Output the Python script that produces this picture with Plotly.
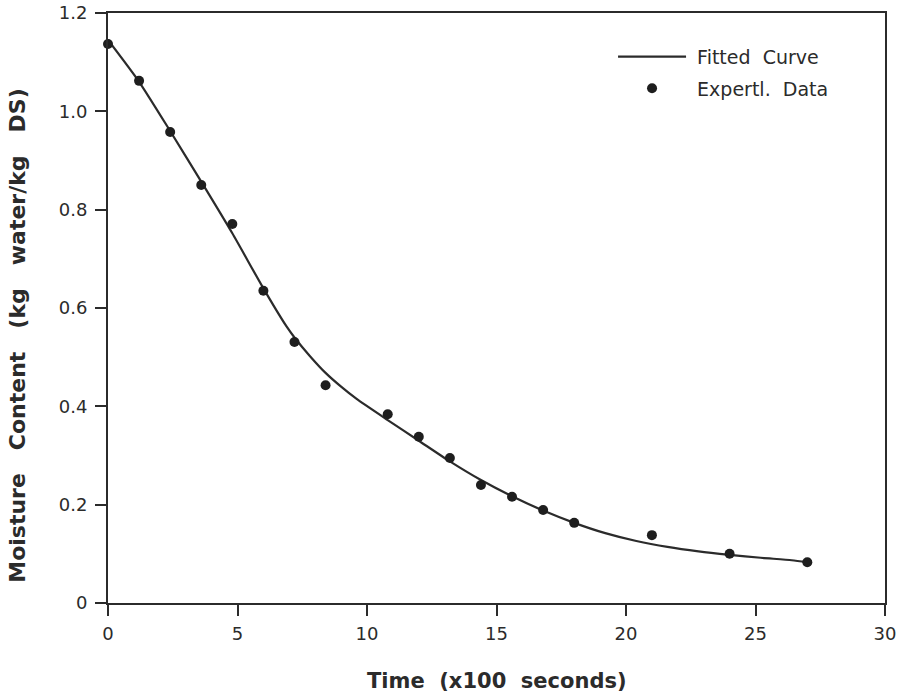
import plotly.graph_objects as go

# Experimental drying data: time (x100 s) and moisture content (kg water / kg DS)
exp_time = [0, 1.2, 2.4, 3.6, 4.8, 6.0, 7.2, 8.4, 10.8, 12.0, 13.2, 14.4,
            15.6, 16.8, 18.0, 21.0, 24.0, 27.0]
exp_moisture = [1.137, 1.062, 0.958, 0.850, 0.771, 0.635, 0.531, 0.443, 0.384,
                0.338, 0.295, 0.240, 0.216, 0.189, 0.163, 0.138, 0.100, 0.083]

# Fitted drying curve
fit_time = [0, 1.2, 2.4, 3.6, 4.8, 6.0, 6.9, 7.2, 7.8, 8.4, 9.0, 9.6, 10.8,
            12.0, 13.2, 14.4, 15.6, 16.8, 18.0, 19.2, 20.4, 21.6, 22.8, 24.0,
            25.2, 26.4, 27.0]
fit_moisture = [1.145, 1.060, 0.960, 0.857, 0.752, 0.640, 0.562, 0.540, 0.502,
                0.468, 0.440, 0.415, 0.372, 0.330, 0.288, 0.250, 0.217, 0.188,
                0.163, 0.142, 0.126, 0.114, 0.105, 0.098, 0.092, 0.087, 0.083]

x_ticks = [0, 5, 10, 15, 20, 25, 30]
y_ticks = [0, 0.2, 0.4, 0.6, 0.8, 1.0, 1.2]
y_tick_text = ["0", "0.2", "0.4", "0.6", "0.8", "1.0", "1.2"]

ink = "#2b2b2b"
font_family = "DejaVu Sans"

fig = go.Figure()
fig.add_trace(go.Scatter(
    x=fit_time, y=fit_moisture, mode="lines", name=" Fitted  Curve",
    legendgroup="fit",
    line=dict(color=ink, width=2.2, shape="spline", smoothing=0.6),
))
fig.add_trace(go.Scatter(
    x=exp_time, y=exp_moisture, mode="markers", name=" Expertl.  Data",
    legendgroup="exp",
    marker=dict(color="#1e1e1e", size=10),
    cliponaxis=False,
))

axis_common = dict(
    showline=True, linecolor=ink, linewidth=2, mirror=True,
    ticks="outside", ticklen=11, tickwidth=2, tickcolor=ink,
    showgrid=False, zeroline=False, automargin=False,
    tickfont=dict(family=font_family, size=18, color=ink),
)

fig.update_xaxes(range=[0, 30], tickvals=x_ticks, ticklabelstandoff=2, **axis_common)
fig.update_yaxes(range=[0, 1.2], tickvals=y_ticks, ticktext=y_tick_text,
                 ticklabelstandoff=4, **axis_common)

fig.update_layout(
    width=904, height=698,
    margin=dict(l=108, r=19, t=13, b=95),
    plot_bgcolor="white", paper_bgcolor="white",
    showlegend=True,
    legend=dict(
        x=0.65, y=0.958, xanchor="left", yanchor="top",
        bgcolor="rgba(0,0,0,0)", borderwidth=0,
        font=dict(family=font_family, size=19, color=ink),
        itemwidth=68, tracegroupgap=4,
    ),
    annotations=[
        dict(text="<b>Time  (x100  seconds)</b>", xref="paper", yref="paper",
             x=0.5, y=-0.132, xanchor="center", yanchor="middle", showarrow=False,
             font=dict(family=font_family, size=21, color=ink)),
        dict(text="<b>Moisture   Content   (kg   water/kg   DS)</b>", xref="paper",
             yref="paper", x=-0.1158, y=0.453, xanchor="center", yanchor="middle",
             textangle=-90, showarrow=False,
             font=dict(family=font_family, size=22, color=ink)),
    ],
)

fig.write_html("out.html")
